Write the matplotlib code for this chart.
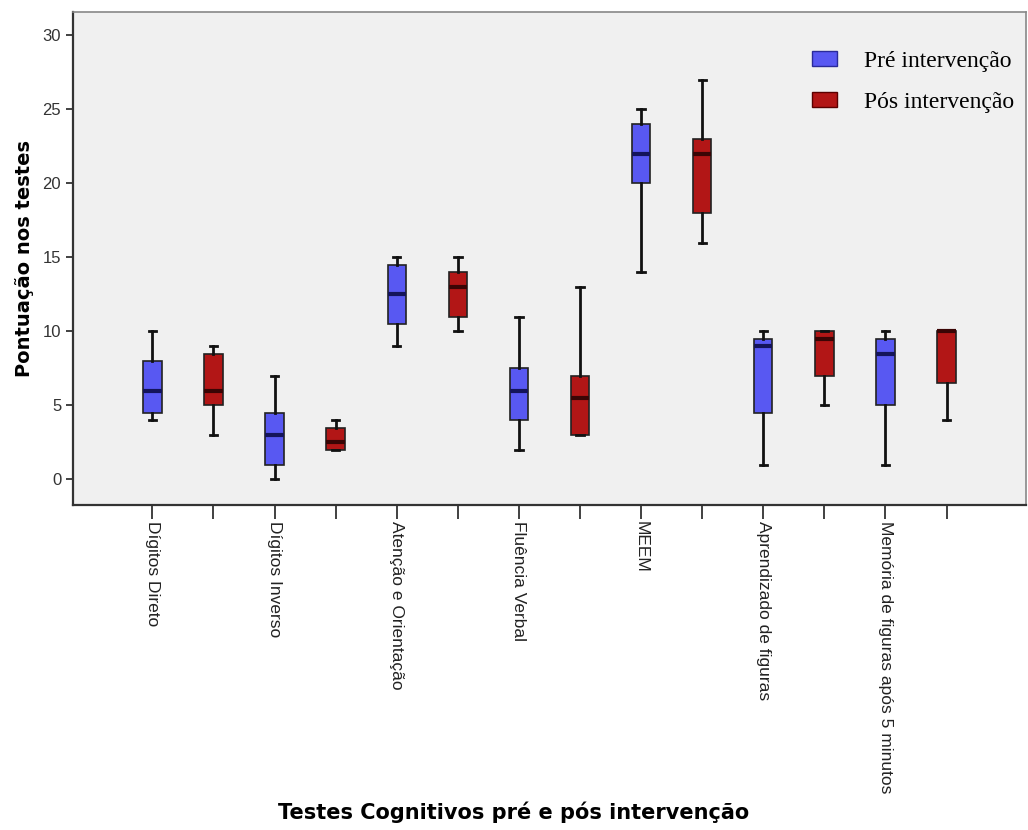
import matplotlib
matplotlib.use("Agg")
import matplotlib.pyplot as plt
from matplotlib.patches import Patch

categories = ["Dígitos Direto", "Dígitos Inverso", "Atenção e Orientação",
              "Fluência Verbal", "MEEM", "Aprendizado de figuras",
              "Memória de figuras após 5 minutos"]

# [whisker low, Q1, median, Q3, whisker high]
pre_stats = [
    [4, 4.5, 6, 8, 10],
    [0, 1, 3, 4.5, 7],
    [9, 10.5, 12.5, 14.5, 15],
    [2, 4, 6, 7.5, 11],
    [14, 20, 22, 24, 25],
    [1, 4.5, 9, 9.5, 10],
    [1, 5, 8.5, 9.5, 10],
]
post_stats = [
    [3, 5, 6, 8.5, 9],
    [2, 2, 2.5, 3.5, 4],
    [10, 11, 13, 14, 15],
    [3, 3, 5.5, 7, 13],
    [16, 18, 22, 23, 27],
    [5, 7, 9.5, 10, 10],
    [4, 6.5, 10, 10, 10],
]
series_labels = ["Pré intervenção", "Pós intervenção"]
yticks = [0, 5, 10, 15, 20, 25, 30]

pre_color = "#5858f2"
post_color = "#b21616"
pre_median = "#14145a"
post_median = "#3a0505"

fig = plt.figure(figsize=(10.28, 8.30), dpi=100)
ax = fig.add_axes([0.071, 0.392, 0.927, 0.594])
ax.set_facecolor("#f0f0f0")

def make(stats):
    return [dict(whislo=s[0], q1=s[1], med=s[2], q3=s[3], whishi=s[4], fliers=[]) for s in stats]

n = len(categories)
pre_pos = [2 * i + 1 for i in range(n)]
post_pos = [2 * i + 2 for i in range(n)]

for stats, pos, fc, mc in [(pre_stats, pre_pos, pre_color, pre_median),
                           (post_stats, post_pos, post_color, post_median)]:
    ax.bxp(make(stats), positions=pos, widths=0.3, patch_artist=True,
           showfliers=False,
           boxprops=dict(facecolor=fc, edgecolor="#222222", linewidth=1.2),
           medianprops=dict(color=mc, linewidth=3),
           whiskerprops=dict(color="#111111", linewidth=2),
           capprops=dict(color="#111111", linewidth=2),
           capwidths=0.12)

ax.set_xlim(-0.3, 15.3)
ax.set_ylim(-1.7, 31.6)
ax.set_yticks(yticks)
ax.set_yticklabels([str(t) for t in yticks], fontsize=12, color="#333333",
                   family="Liberation Sans")
ax.set_xticks(list(range(1, 2 * n + 1)))
labels = []
for i in range(2 * n):
    labels.append(categories[i // 2] if i % 2 == 0 else "")
ax.set_xticklabels(labels, rotation=-90, fontsize=12.5, color="#222222", va="top",
                   ha="center", family="Liberation Sans")
ax.tick_params(axis="x", length=10, width=1.3, color="#333333", pad=2)
ax.tick_params(axis="y", length=5, width=1.3, color="#333333")
for side in ["left", "bottom"]:
    ax.spines[side].set_linewidth(1.6)
    ax.spines[side].set_color("#333333")
for side in ["top", "right"]:
    ax.spines[side].set_linewidth(1.2)
    ax.spines[side].set_color("#888888")

ax.set_ylabel("Pontuação nos testes", fontsize=14, fontweight="bold", labelpad=6)
fig.text(0.5, 0.008, "Testes Cognitivos pré e pós intervenção", ha="center",
         va="bottom", fontsize=15, fontweight="bold")

handles = [Patch(facecolor=pre_color, edgecolor="#2a2a9a"),
           Patch(facecolor=post_color, edgecolor="#5a0000")]
leg = ax.legend(handles, series_labels, loc="upper left", bbox_to_anchor=(0.776, 0.92),
                frameon=False, prop=dict(family="Liberation Serif", size=17),
                borderaxespad=0, borderpad=0,
                handlelength=1.05, handleheight=0.6, handletextpad=1.15, labelspacing=0.85)

fig.savefig("out.png", dpi=100, facecolor="white")
